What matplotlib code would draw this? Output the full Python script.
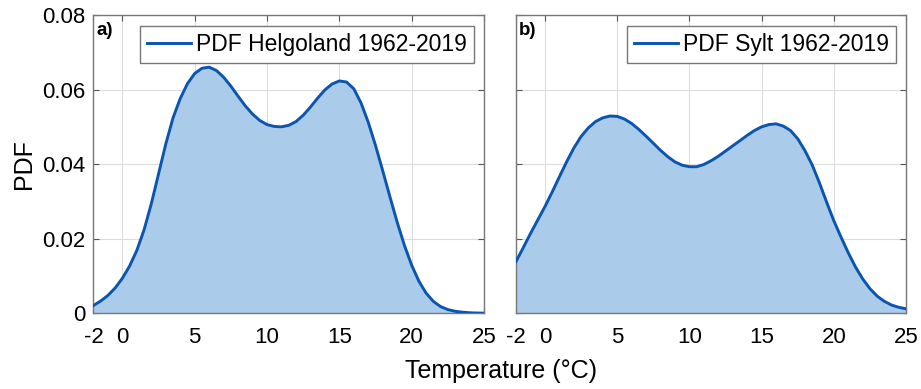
import numpy as np
import matplotlib
matplotlib.use('Agg')
from matplotlib import pyplot as plt

plt.rcParams['font.family'] = ['Liberation Sans', 'DejaVu Sans']
plt.rcParams['axes.unicode_minus'] = False

# temperature grid (deg C) and PDF values
temp = np.arange(-2, 25.01, 0.5)

pdf_helgoland = [0.0021, 0.0033, 0.0048, 0.0068, 0.0094, 0.0127, 0.0169, 0.0224,
                 0.0294, 0.0374, 0.0454, 0.0524, 0.0576, 0.0616, 0.0643, 0.0657,
                 0.0660, 0.0651, 0.0633, 0.0609, 0.0582, 0.0556, 0.0534, 0.0517,
                 0.0506, 0.0501, 0.0500, 0.0504, 0.0514, 0.0531, 0.0553, 0.0577,
                 0.0599, 0.0615, 0.0623, 0.0620, 0.0602, 0.0564, 0.0512, 0.0450,
                 0.0382, 0.0312, 0.0244, 0.0182, 0.0129, 0.0086, 0.0054, 0.0032,
                 0.0018, 0.0010, 0.00055, 0.0003, 0.00015, 0.00008, 0.00004]

pdf_sylt = [0.0139, 0.0176, 0.0214, 0.0250, 0.0286, 0.0325, 0.0366, 0.0406,
            0.0443, 0.0474, 0.0497, 0.0514, 0.0524, 0.0529, 0.0528, 0.0521,
            0.0509, 0.0493, 0.0475, 0.0456, 0.0437, 0.0420, 0.0406, 0.0397,
            0.0393, 0.0393, 0.0399, 0.0409, 0.0421, 0.0435, 0.0449, 0.0463,
            0.0477, 0.0490, 0.0500, 0.0506, 0.0508, 0.0502, 0.0490, 0.0468,
            0.0436, 0.0398, 0.0350, 0.0298, 0.0248, 0.0204, 0.0162, 0.0124,
            0.0092, 0.0066, 0.0046, 0.0032, 0.0022, 0.0016, 0.0012]

labels = ['PDF Helgoland 1962-2019', 'PDF Sylt 1962-2019']
panels = ['a)', 'b)']
xticks = [-2, 0, 5, 10, 15, 20, 25]
yticks = [0, 0.02, 0.04, 0.06, 0.08]

line_col = '#0a55b0'
fill_col = '#abcbea'

fig = plt.figure(figsize=(9.21, 3.89), dpi=100)
ax1 = fig.add_axes([0.1015, 0.1946, 0.4240, 0.767])
ax2 = fig.add_axes([0.5603, 0.1946, 0.4235, 0.767])

for ax, pdf, lab, pl in zip([ax1, ax2], [pdf_helgoland, pdf_sylt], labels, panels):
    ax.fill_between(temp, pdf, 0, color=fill_col, lw=0, zorder=1)
    ax.plot(temp, pdf, color=line_col, lw=2.1, label=lab, zorder=3,
            solid_joinstyle='round')
    ax.set_xlim(-2, 25)
    ax.set_ylim(0, 0.08)
    ax.set_xticks(xticks)
    ax.set_yticks(yticks)
    ax.set_yticklabels(['0', '0.02', '0.04', '0.06', '0.08'])
    ax.grid(True, color='#dcdcdc', lw=0.8, zorder=0)
    ax.set_axisbelow(True)
    ax.tick_params(direction='in', length=4, width=0.8, top=True, right=True,
                   labelsize=16, color='#555555')
    ax.tick_params(axis='x', pad=10)
    ax.tick_params(axis='y', pad=6)
    for s in ax.spines.values():
        s.set_color('#777777')
        s.set_linewidth(1)
    ax.text(0.007, 0.978, pl, transform=ax.transAxes, fontsize=13.5,
            fontweight='bold', ha='left', va='top')
    leg = ax.legend(loc='upper right', bbox_to_anchor=(0.975, 0.963), fontsize=16.5,
                    handlelength=1.9, handletextpad=0.25, borderpad=0.3,
                    borderaxespad=0, fancybox=False, framealpha=1)
    leg.get_frame().set_edgecolor('#777777')
    leg.get_frame().set_linewidth(1)

ax2.set_yticklabels([])
ax1.set_ylabel('PDF', fontsize=18, labelpad=4)
fig.text(0.5445, 0.047, 'Temperature (°C)', fontsize=18, ha='center', va='center')

plt.savefig('out.png', dpi=100)
